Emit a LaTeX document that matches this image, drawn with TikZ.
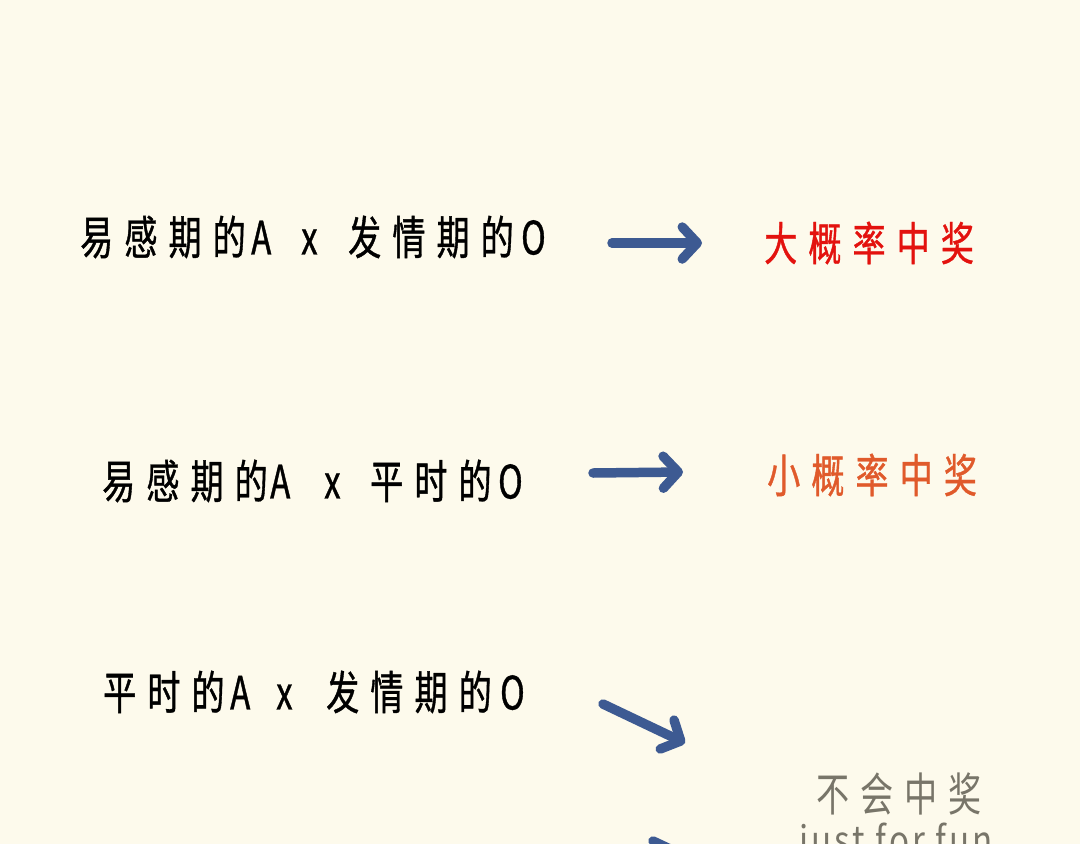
\documentclass[tikz,border=0pt]{standalone}
\usepackage{fontspec}
\usepackage{xcolor}
\usepackage{tikz}
\usetikzlibrary{arrows.meta}
\newfontfamily\cjk[FakeStretch=0.72,LetterSpace=24,FakeBold=0.8]{Noto Sans CJK SC}
\newfontfamily\cjklight[FakeStretch=0.72,LetterSpace=24]{Noto Sans CJK SC}
\newfontfamily\latn[FakeStretch=0.85,LetterSpace=8]{Noto Sans CJK SC}
\newcommand{\cell}[2]{\makebox[#1][l]{#2}}
\definecolor{paper}{HTML}{FDFAEC}
\definecolor{arrowblue}{HTML}{3D5A92}
\definecolor{bigred}{HTML}{E3120E}
\definecolor{smallorange}{HTML}{E05A2B}
\definecolor{nogray}{HTML}{787569}
\begin{document}
\begin{tikzpicture}[x=1pt,y=1pt,yscale=-1,xscale=1,
  arr/.style={draw=arrowblue, line width=9.5pt, line cap=round,
    -{Straight Barb[length=15pt,width=32pt,round]}},
  txt/.style={anchor=west, inner sep=0pt, font=\cjk\fontsize{46pt}{50pt}\selectfont}]
%Shape: Background
\fill[paper] (0,0) rectangle (1080,844);
\useasboundingbox (0,0) rectangle (1080,844);
\clip (0,0) rectangle (1080,844);

% Text Node
\node (l1) [txt] at (80,237) {\cell{171pt}{易感期的}\cell{50pt}{A}\cell{47pt}{x}\cell{173pt}{发情期的}O};
% Text Node
\node (l2) [txt] at (102,481) {\cell{168pt}{易感期的}\cell{54pt}{A}\cell{46pt}{x}\cell{128pt}{平时的}O};
% Text Node
\node (l3) [txt] at (103,692) {\cell{127pt}{平时的}\cell{46pt}{A}\cell{50pt}{x}\cell{174pt}{发情期的}O};

% Text Node
\node (r1) [txt, text=bigred] at (764,243) {大概率中奖};
% Text Node
\node (r2) [txt, text=smallorange] at (767,475) {小概率中奖};
% Text Node
\node (r3) [txt, font=\cjklight\fontsize{46pt}{50pt}\selectfont, text=nogray] at (816,794) {不会中奖};
% Text Node
\node (r4) [anchor=north west, inner sep=0pt, text=nogray, font=\latn\fontsize{39pt}{44pt}\selectfont] at (799,823) {just for fun};

%Shape: Arrows
\coordinate (s1) at (612,243);
\coordinate (e1) at (702,243);
\coordinate (s2) at (593,473);
\coordinate (e2) at (683,472);
\coordinate (s3) at (603,704);
\coordinate (e3) at (685,743);
\coordinate (s4) at (653,841);
\coordinate (e4) at (734,879);
\draw[arr] (s1) -- (e1);
\draw[arr] (s2) -- (e2);
\draw[arr] (s3) -- (e3);
\draw[arr] (s4) -- (e4);
\end{tikzpicture}
\end{document}
